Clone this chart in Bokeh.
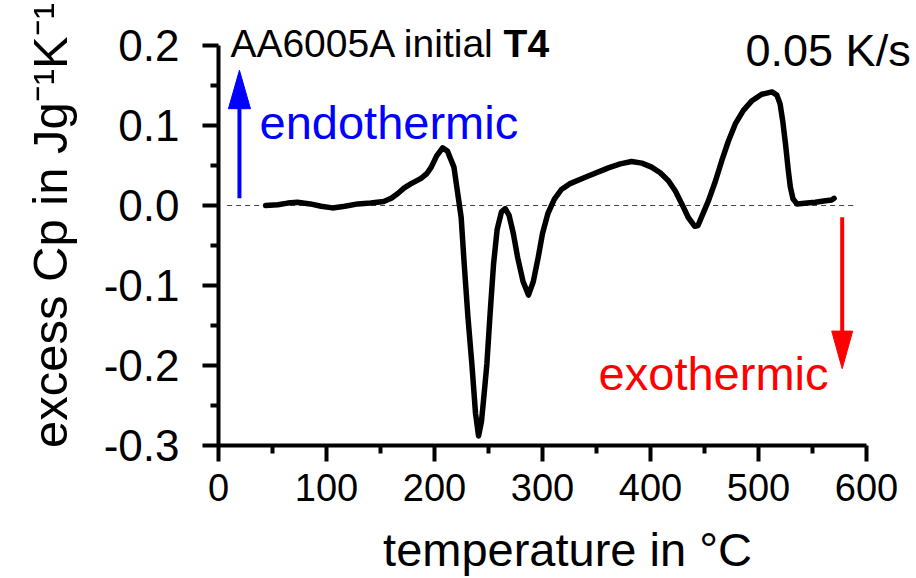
from bokeh.plotting import figure
from bokeh.models import Range1d, FixedTicker, NumeralTickFormatter, Label, ColumnDataSource
from bokeh.embed import file_html
from bokeh.resources import INLINE

# ---- data ----
temperature = [43.6, 55, 64, 73, 85, 95, 105.5, 117, 129, 141, 153, 160, 166, 172, 178,
               187.5, 193, 197, 202, 207.5, 212, 218, 224.7, 227.5, 231, 234.6, 238, 240.8,
               243.5, 246, 248.5, 251.5, 254.7, 258, 262, 265.5, 269, 273, 277, 282, 287,
               291.5, 296, 300, 305, 311, 317.5, 325, 339, 361, 372, 382.5, 392, 401, 409,
               416.6, 423, 429, 435, 441, 444, 448, 453.7, 460, 466, 472, 478.5, 486, 494,
               503, 512.5, 517, 520, 522.5, 525, 527.5, 529.5, 532, 535.7, 545, 552.7, 562,
               568, 570]
excess_cp = [0.000, 0.001, 0.003, 0.004, 0.002, -0.001, -0.003, -0.001, 0.002, 0.003, 0.005,
             0.009, 0.015, 0.022, 0.027, 0.034, 0.040, 0.048, 0.062, 0.072, 0.068, 0.048,
             -0.015, -0.073, -0.140, -0.198, -0.260, -0.288, -0.270, -0.235, -0.198, -0.135,
             -0.073, -0.030, -0.008, -0.004, -0.012, -0.035, -0.065, -0.095, -0.112, -0.095,
             -0.065, -0.035, -0.010, 0.008, 0.020, 0.027, 0.035, 0.047, 0.052, 0.055, 0.053,
             0.048, 0.041, 0.031, 0.018, 0.002, -0.015, -0.026, -0.025, -0.012, 0.006, 0.030,
             0.056, 0.080, 0.102, 0.119, 0.131, 0.139, 0.142, 0.138, 0.127, 0.105, 0.077,
             0.045, 0.023, 0.008, 0.002, 0.003, 0.004, 0.006, 0.007, 0.009]

x_major_ticks = [0, 100, 200, 300, 400, 500, 600]
x_minor_ticks = [50, 150, 250, 350, 450, 550]
y_major_ticks = [-0.3, -0.2, -0.1, 0.0, 0.1, 0.2]
y_minor_ticks = [-0.25, -0.15, -0.05, 0.05, 0.15]
title_text = "AA6005A initial"
title_bold = "T4"
rate_text = "0.05 K/s"
endo_text = "endothermic"
exo_text = "exothermic"
x_label = "temperature in °C"
y_label = "excess Cp in Jg⁻¹K⁻¹"

FONT = "Liberation Sans"

p = figure(width=916, height=578, output_backend="svg", toolbar_location=None,
           x_range=Range1d(0, 646.3), y_range=Range1d(-0.3, 0.25),
           min_border_left=218, min_border_right=0, min_border_top=5, min_border_bottom=133)
p.background_fill_color = "white"
p.border_fill_color = "white"
p.outline_line_color = None
p.xgrid.visible = False
p.ygrid.visible = False

# zero reference line
p.line([8, 589], [0, 0], line_color="#444444", line_width=1, line_dash="5 4")

# main curve
src = ColumnDataSource(dict(t=temperature, cp=excess_cp))
p.line("t", "cp", source=src, line_color="black", line_width=5.5, line_join="round", line_cap="round")

# arrows (shaft + head)
p.line([19.4, 19.4], [0.009, 0.125], line_color="#0000ff", line_width=4)
p.patch([9.2, 29.6, 19.4], [0.121, 0.121, 0.169], fill_color="#0000ff", line_color="#0000ff")
p.line([577.5, 577.5], [-0.0146, -0.16], line_color="#ff0000", line_width=4)
p.patch([567.8, 587.2, 577.5], [-0.157, -0.157, -0.204], fill_color="#ff0000", line_color="#ff0000")

# texts
p.add_layout(Label(x=11, y=0.2025, text=title_text, text_font=FONT, text_font_size="39px",
                   text_color="black", text_baseline="alphabetic"))
p.add_layout(Label(x=264, y=0.2025, text=title_bold, text_font=FONT, text_font_size="39px",
                   text_font_style="bold", text_color="black", text_baseline="alphabetic"))
p.add_layout(Label(x=488, y=0.194, text=rate_text, text_font=FONT, text_font_size="45px",
                   text_color="black", text_baseline="alphabetic"))
p.add_layout(Label(x=38, y=0.104, text=endo_text, text_font=FONT, text_font_size="47px",
                   text_color="#0000ff", text_baseline="alphabetic"))
p.add_layout(Label(x=564.8, y=-0.21, text=exo_text, text_font=FONT, text_font_size="47px",
                   text_color="#ff0000", text_baseline="alphabetic", text_align="right"))

# axes
p.xaxis.ticker = FixedTicker(ticks=x_major_ticks, minor_ticks=x_minor_ticks)
p.yaxis.ticker = FixedTicker(ticks=y_major_ticks, minor_ticks=y_minor_ticks)
p.yaxis.formatter = NumeralTickFormatter(format="0.0")
p.xaxis.bounds = (0, 600)
p.yaxis.bounds = (-0.3, 0.2)
for ax in (p.xaxis[0], p.yaxis[0]):
    ax.axis_line_width = 4
    ax.major_tick_line_width = 4
    ax.minor_tick_line_width = 4
    ax.major_tick_out = 16
    ax.major_tick_in = 0
    ax.minor_tick_out = 8
    ax.minor_tick_in = 0
    ax.axis_line_color = "black"
    ax.major_tick_line_color = "black"
    ax.minor_tick_line_color = "black"
    ax.major_label_text_color = "black"
    ax.axis_label_text_color = "black"
    ax.axis_label_text_font_style = "normal"

p.xaxis.major_label_text_font = FONT
p.xaxis.major_label_text_font_size = "38px"
p.xaxis.major_label_standoff = 12
p.xaxis.axis_label = x_label
p.xaxis.axis_label_text_font = FONT
p.xaxis.axis_label_text_font_size = "47px"
p.xaxis.axis_label_standoff = 19

p.yaxis.major_label_text_font = FONT
p.yaxis.major_label_text_font_size = "44px"
p.yaxis.major_label_standoff = 23
p.yaxis.axis_label = y_label
p.yaxis.axis_label_text_font = FONT
p.yaxis.axis_label_text_font_size = "49px"
p.yaxis.axis_label_standoff = 24

open("out.html", "w").write(file_html(p, INLINE))
